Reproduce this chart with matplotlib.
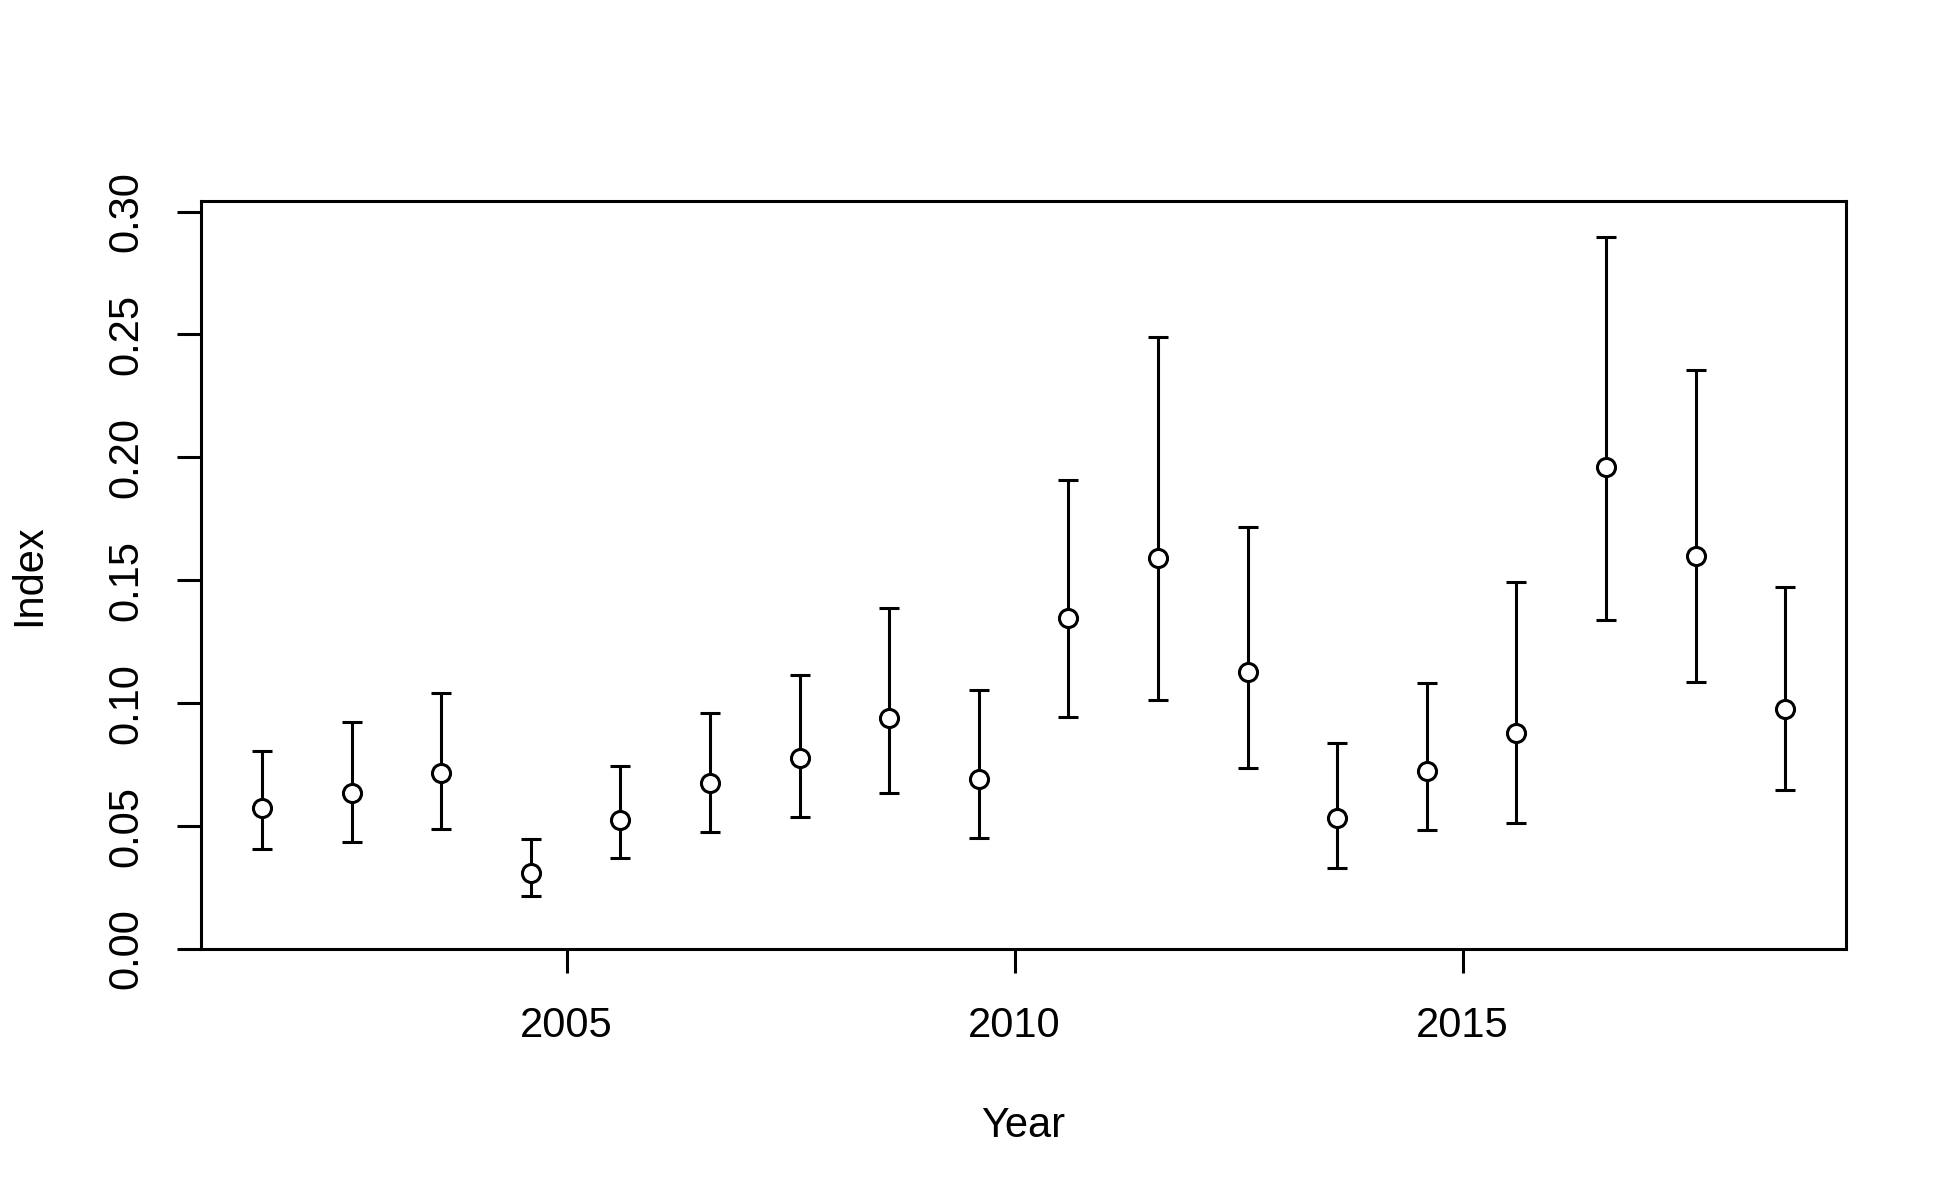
import numpy as np
import matplotlib.pyplot as plt

plt.rcParams['font.family'] = ['Liberation Sans', 'DejaVu Sans']

years = np.arange(2002, 2020)
offset = -0.4
index = [0.0574, 0.0636, 0.0715, 0.0311, 0.0525, 0.0677, 0.0776, 0.0939, 0.0693,
         0.1345, 0.1590, 0.1128, 0.0534, 0.0723, 0.0880, 0.1962, 0.1600, 0.0976]
upper = [0.0806, 0.0924, 0.1041, 0.0446, 0.0744, 0.0961, 0.1113, 0.1387, 0.1054,
         0.1908, 0.2490, 0.1718, 0.0838, 0.1084, 0.1494, 0.2898, 0.2357, 0.1473]
lower = [0.0407, 0.0434, 0.0487, 0.0214, 0.0369, 0.0475, 0.0536, 0.0634, 0.0451,
         0.0943, 0.1012, 0.0738, 0.0330, 0.0482, 0.0514, 0.1340, 0.1088, 0.0646]

x = years + offset
index = np.array(index)
upper = np.array(upper)
lower = np.array(lower)

fig = plt.figure(figsize=(19.5, 12), dpi=100)
ax = fig.add_axes([0.1031, 0.2092, 0.9467 - 0.1031, 0.8325 - 0.2092])

lw = 2.2
ax.errorbar(x, index, yerr=[index - lower, upper - index], fmt='none',
            ecolor='black', elinewidth=lw, capsize=7.2, capthick=lw, zorder=2)
ax.plot(x, index, 'o', markersize=13, markerfacecolor='white',
        markeredgecolor='black', markeredgewidth=lw, zorder=3)

# R style: 4% padding on x, y axis from 0 to max(upper)*1.05
pad = 0.04 * (x.max() - x.min())
ax.set_xlim(x.min() - pad, x.max() + pad)
ax.set_ylim(0, upper.max() * 1.05)

ax.set_xticks([2005, 2010, 2015])
yt = np.arange(0, 0.31, 0.05)
ax.set_yticks(yt)
ax.set_yticklabels(['%.2f' % v for v in yt], rotation=90, va='center')
ax.tick_params(axis='both', length=17.3, width=lw, labelsize=30, direction='out')
ax.tick_params(axis='x', pad=24)
ax.tick_params(axis='y', pad=22)

for s in ax.spines.values():
    s.set_linewidth(lw)

ax.set_xlabel('Year', fontsize=30, labelpad=43)
ax.set_ylabel('Index', fontsize=30, labelpad=41)

fig.savefig('out.png', dpi=100)
